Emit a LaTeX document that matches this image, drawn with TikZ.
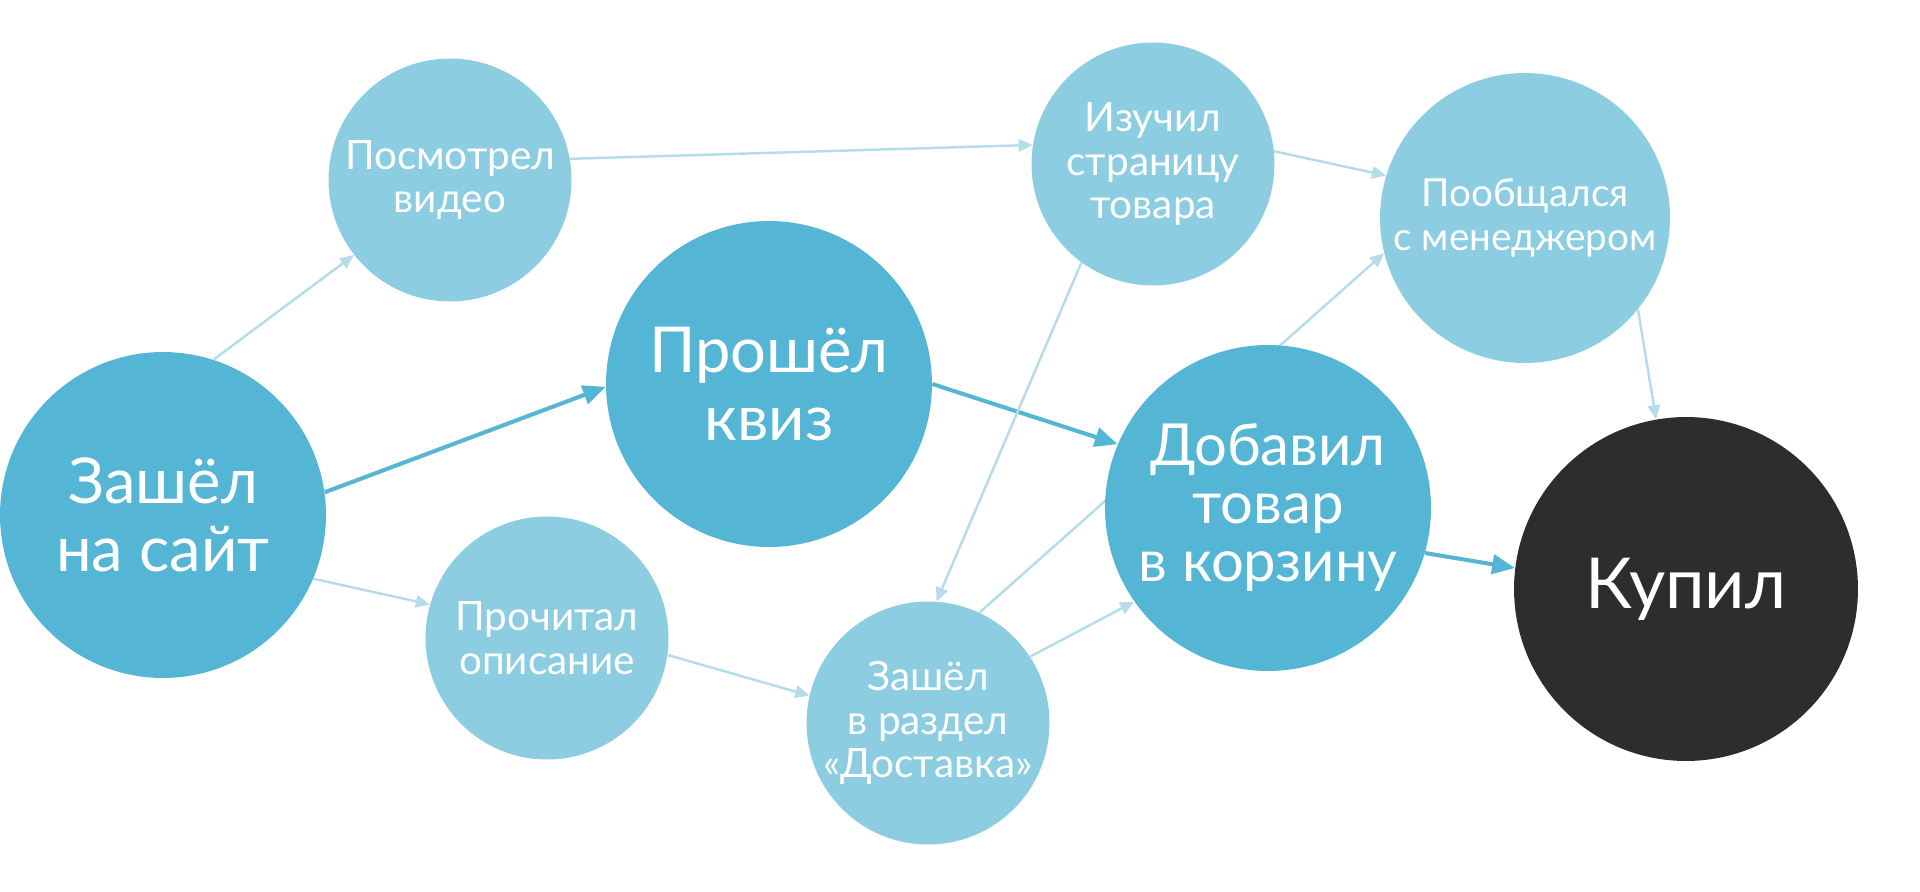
\documentclass[tikz,border=0pt]{standalone}
\usepackage{fontspec}
\setmainfont{Lato}
\usetikzlibrary{arrows.meta,backgrounds}
\definecolor{midblue}{HTML}{55B5D4}
\definecolor{lightblue}{HTML}{8CCDE2}
\definecolor{darkfill}{HTML}{2D2D2D}
\definecolor{lineblue}{HTML}{B4DCEA}
\begin{document}
\begin{tikzpicture}[x=0.02cm,y=-0.02cm,
  bub/.style={circle,inner sep=0pt,draw=none,text=white,align=center},
  bigbub/.style={bub,fill=midblue,minimum size=6.52cm,font=\fontsize{36}{38.5}\selectfont},
  smallbub/.style={bub,fill=lightblue,minimum size=4.86cm,font=\fontsize{23}{24.8}\selectfont},
  weakedge/.style={draw=lineblue,line width=1.4pt,-{Triangle[length=8pt,width=7pt]}},
  strongedge/.style={draw=midblue,line width=2.3pt,-{Triangle[length=13pt,width=11pt]}}]
\useasboundingbox (0,0) rectangle (1920,892);

\node[bigbub] (A) at (163,515) {Зашёл\\на сайт};
\node[smallbub] (B) at (450,180) {Посмотрел\\видео};
\node[bigbub] (C) at (769,384) {Прошёл\\квиз};
\node[smallbub] (D) at (547,638) {Прочитал\\описание};
\node[smallbub] (E) at (1153,164) {Изучил\\страницу\\товара};
\node[smallbub] (F) at (928,723) {Зашёл\\в раздел\\«Доставка»};
\node[bigbub,font=\fontsize{33}{33}\selectfont] (G) at (1268,508) {Добавил\\товар\\в корзину};
\node[smallbub,minimum size=5.8cm,font=\fontsize{22}{24.8}\selectfont] (H) at (1525,218) {Пообщался\\с менеджером};
\node[bub,fill=darkfill,minimum size=6.88cm,font=\fontsize{40}{42}\selectfont] (I) at (1686,589) {Купил};

\begin{scope}[on background layer]
\draw[weakedge] (A.72) -- (B.218);
\draw[strongedge] (A.8) -- (C.181);
\draw[weakedge] (A.-23) -- (D.164);
\draw[weakedge] (B.10) -- (E.171);
\draw[strongedge] (C.0) -- (G.157);
\draw[weakedge] (D.-8) -- (F.167);
\draw[weakedge] (E.234) -- (F.86);
\draw[weakedge] (E.6) -- (H.163);
\draw[weakedge] (F.65) -- (H.194);
\draw[weakedge] (F.33) -- (G.215);
\draw[strongedge] (G.-16) -- (I.173);
\draw[weakedge] (H.-39) -- (I.100);
\end{scope}
\end{tikzpicture}
\end{document}
